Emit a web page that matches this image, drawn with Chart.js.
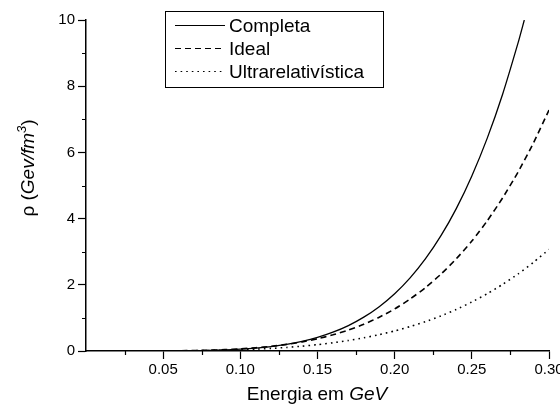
<!DOCTYPE html>
<html>
<head>
<meta charset="utf-8">
<script src="https://cdn.jsdelivr.net/npm/chart.js@4/dist/chart.umd.min.js"></script>
<style>
    html, body { margin: 0; padding: 0; background: #fff; }
</style>
</head>
<body>
<canvas id="rhoChart" width="560" height="408"></canvas>
<script>
"use strict";

// energia (GeV) e densidade de energia rho (GeV/fm^3)
const nomes = ['Completa', 'Ideal', 'Ultrarelativística'];

const energia = [0.01, 0.02, 0.03, 0.04, 0.05, 0.06, 0.07, 0.08, 0.09, 0.10,
                 0.11, 0.12, 0.13, 0.14, 0.15, 0.16, 0.17, 0.18, 0.19, 0.20,
                 0.21, 0.22, 0.23, 0.24, 0.25, 0.26, 0.27, 0.28, 0.29, 0.30];

// a curva completa sai do topo do grafico antes de 0.30
const energiaCompleta = [0.01, 0.02, 0.03, 0.04, 0.05, 0.06, 0.07, 0.08, 0.09, 0.10,
                         0.11, 0.12, 0.13, 0.14, 0.15, 0.16, 0.17, 0.18, 0.19, 0.20,
                         0.21, 0.22, 0.23, 0.24, 0.25, 0.26, 0.27, 0.28, 0.284];

const rhoCompleta = [0, 0, 0.0001, 0.0005, 0.0017, 0.0042, 0.0091, 0.0177, 0.0319, 0.054,
                     0.087, 0.135, 0.201, 0.291, 0.41, 0.568, 0.768, 1.023, 1.34, 1.73,
                     2.21, 2.79, 3.484, 4.31, 5.29, 6.431, 7.766, 9.316, 10];

const rhoIdeal = [0, 0.0001, 0.0004, 0.0013, 0.0033, 0.0072, 0.0139, 0.0247, 0.0411, 0.0647,
                  0.0974, 0.1416, 0.1998, 0.275, 0.37, 0.488, 0.633, 0.81, 1.021, 1.27,
                  1.57, 1.918, 2.322, 2.789, 3.32, 3.935, 4.628, 5.411, 6.292, 7.28];

const rhoUltra = [0, 0.0001, 0.0003, 0.001, 0.0024, 0.0049, 0.0091, 0.0155, 0.0249, 0.0379,
                  0.0555, 0.0786, 0.108, 0.146, 0.192, 0.248, 0.317, 0.398, 0.494, 0.606,
                  0.737, 0.888, 1.061, 1.257, 1.481, 1.732, 2.014, 2.329, 2.681, 3.07];

const xMinor = [0.025, 0.075, 0.125, 0.175, 0.225, 0.275];
const yMinor = [1, 3, 5, 7, 9];

const FONT = '"Liberation Sans", Arial, sans-serif';

const toPoints = (xs, ys) => xs.map((x, i) => ({x: x, y: ys[i]}));

// tracinhos menores nos eixos (Chart.js so desenha os principais)
const minorTicks = {
    id: 'minorTicks',
    afterDraw(chart) {
        const {ctx, scales: {x, y}} = chart;
        ctx.save();
        ctx.strokeStyle = '#000';
        ctx.lineWidth = 1.2;
        ctx.beginPath();
        xMinor.forEach(v => {
            const px = Math.round(x.getPixelForValue(v)) + 0.5;
            ctx.moveTo(px, y.bottom);
            ctx.lineTo(px, y.bottom + 4);
        });
        yMinor.forEach(v => {
            const py = Math.round(y.getPixelForValue(v)) + 0.5;
            ctx.moveTo(x.left, py);
            ctx.lineTo(x.left - 4, py);
        });
        ctx.stroke();
        ctx.restore();
    }
};

// escreve trechos com estilos diferentes (normal / italico / expoente)
const drawRuns = (ctx, runs, x0, y0, center) => {
    const fontOf = r => (r.italic ? 'italic ' : '') + (r.sup ? 13 : 19) + 'px ' + FONT;
    let total = 0;
    runs.forEach(r => { ctx.font = fontOf(r); total += ctx.measureText(r.t).width; });
    let x = center ? x0 - total / 2 : x0;
    runs.forEach(r => {
        ctx.font = fontOf(r);
        ctx.fillText(r.t, x, r.sup ? y0 - 8 : y0);
        x += ctx.measureText(r.t).width;
    });
};

const axisTitles = {
    id: 'axisTitles',
    afterDraw(chart) {
        const ctx = chart.ctx;
        ctx.save();
        ctx.fillStyle = '#000';
        ctx.textBaseline = 'alphabetic';
        ctx.textAlign = 'left';
        drawRuns(ctx, [{t: 'Energia em '}, {t: 'GeV', italic: true}], 317, 400, true);
        ctx.translate(34, 168);
        ctx.rotate(-Math.PI / 2);
        drawRuns(ctx, [{t: 'ρ ('}, {t: 'Gev/fm', italic: true}, {t: '3', italic: true, sup: true}, {t: ')'}], 0, 0, true);
        ctx.restore();
    }
};

// legenda com moldura dentro da area do grafico
const boxLegend = {
    id: 'boxLegend',
    afterDraw(chart) {
        const ctx = chart.ctx;
        const bx = 165, by = 11, bw = 218, bh = 76;
        ctx.save();
        ctx.fillStyle = '#fff';
        ctx.fillRect(bx, by, bw, bh);
        ctx.strokeStyle = '#000';
        ctx.lineWidth = 1;
        ctx.strokeRect(bx + 0.5, by + 0.5, bw, bh);
        ctx.font = '19px ' + FONT;
        ctx.textBaseline = 'middle';
        ctx.fillStyle = '#000';
        chart.data.datasets.forEach((ds, i) => {
            const rowY = by + 14.5 + i * 23;
            ctx.setLineDash(ds.borderDash || []);
            ctx.lineWidth = 1.2;
            ctx.beginPath();
            ctx.moveTo(bx + 10, rowY);
            ctx.lineTo(bx + 60, rowY);
            ctx.stroke();
            ctx.setLineDash([]);
            ctx.fillText(ds.label, bx + 64, rowY + 1);
        });
        ctx.restore();
    }
};

new Chart(document.getElementById('rhoChart'), {
    type: 'line',
    data: {
        datasets: [{
            label: nomes[0],
            data: toPoints(energiaCompleta, rhoCompleta),
            borderColor: '#000',
            borderWidth: 1.3,
            borderDash: [],
            pointRadius: 0,
            tension: 0.2
        }, {
            label: nomes[1],
            data: toPoints(energia, rhoIdeal),
            borderColor: '#000',
            borderWidth: 1.6,
            borderDash: [6, 4],
            pointRadius: 0,
            tension: 0.2
        }, {
            label: nomes[2],
            data: toPoints(energia, rhoUltra),
            borderColor: '#000',
            borderWidth: 1.6,
            borderDash: [1.6, 4],
            pointRadius: 0,
            tension: 0.2
        }]
    },
    options: {
        responsive: false,
        animation: false,
        layout: {padding: {left: 0, right: 11, top: 20, bottom: 0}},
        plugins: {legend: {display: false}, tooltip: {enabled: false}},
        scales: {
            x: {
                type: 'linear',
                min: 0,
                max: 0.30,
                afterFit: (s) => { s.height = 57; s.paddingLeft = 0; s.paddingRight = 0; },
                border: {display: true, color: '#000', width: 1.5},
                grid: {
                    drawOnChartArea: false,
                    drawTicks: true,
                    tickLength: 8,
                    tickWidth: 1.2,
                    tickColor: (c) => (c.tick && c.tick.value === 0) ? 'rgba(0,0,0,0)' : '#000'
                },
                ticks: {
                    stepSize: 0.05,
                    padding: 2,
                    color: '#000',
                    autoSkip: false,
                    maxRotation: 0,
                    font: {family: FONT, size: 15},
                    callback: (v) => v === 0 ? '' : Number(v).toFixed(2)
                }
            },
            y: {
                min: 0,
                max: 10,
                afterFit: (s) => { s.width = 86; s.paddingTop = 0; s.paddingBottom = 0; },
                border: {display: true, color: '#000', width: 1.5},
                grid: {drawOnChartArea: false, drawTicks: true, tickLength: 8, tickWidth: 1.2, tickColor: '#000'},
                ticks: {
                    stepSize: 2,
                    padding: 3,
                    color: '#000',
                    font: {family: FONT, size: 15}
                }
            }
        }
    },
    plugins: [minorTicks, axisTitles, boxLegend]
});
</script>
</body>
</html>
